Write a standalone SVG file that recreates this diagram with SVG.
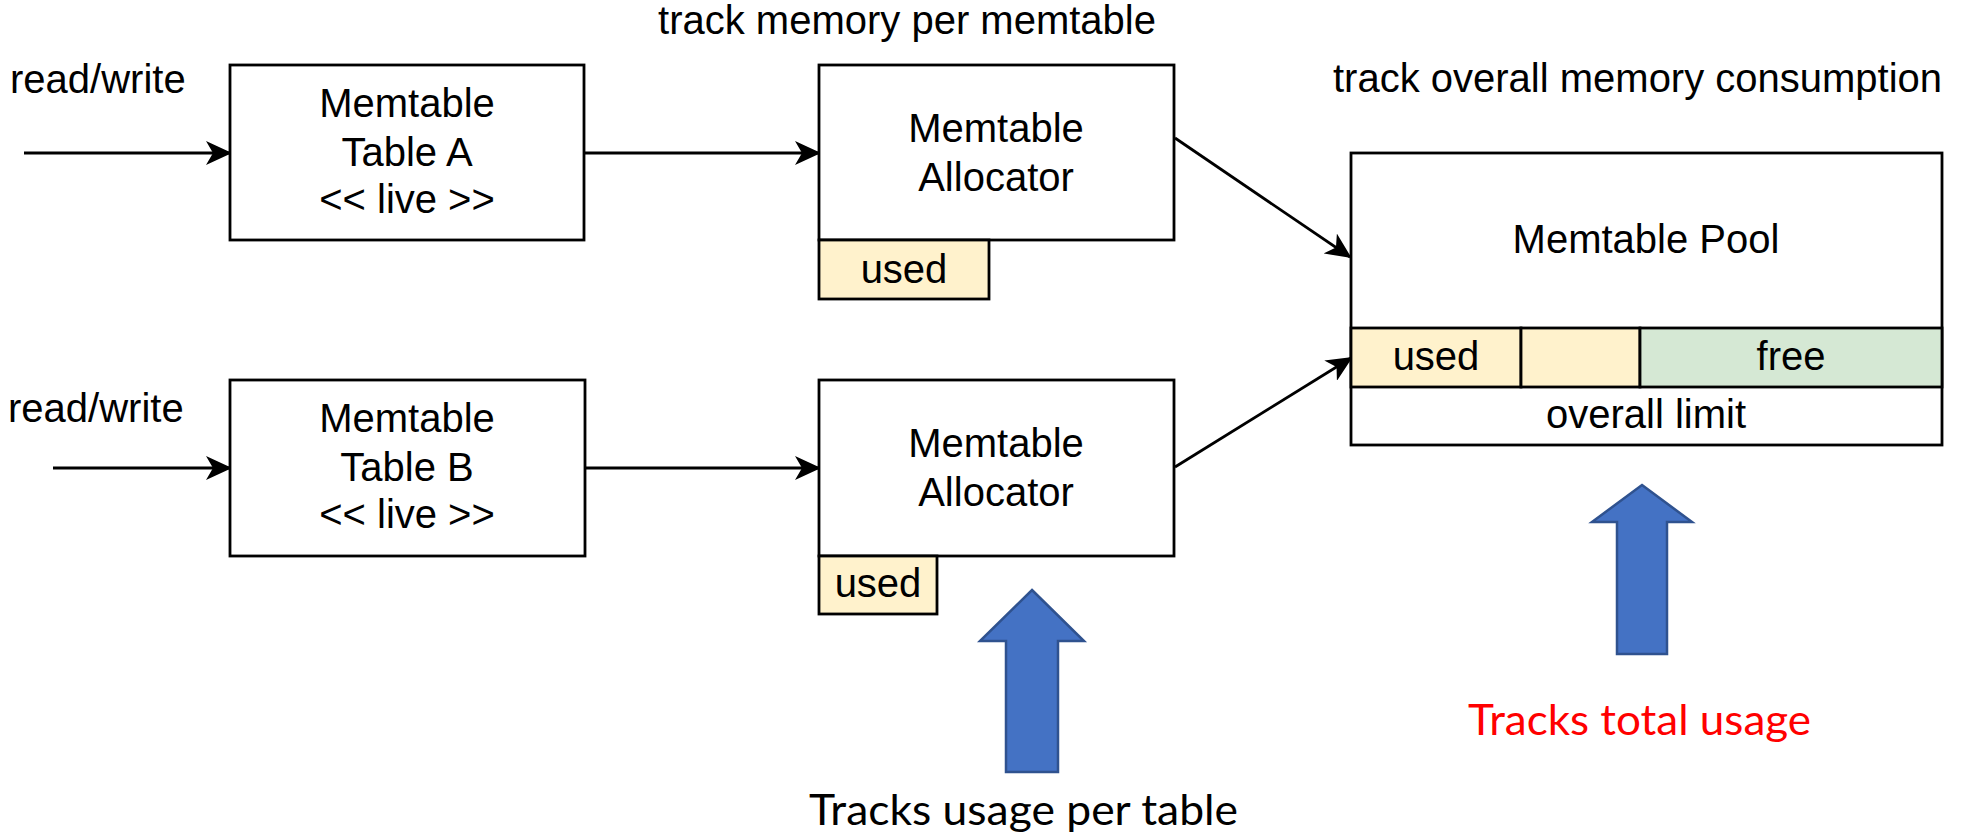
<svg xmlns="http://www.w3.org/2000/svg" width="1964" height="835" viewBox="0 0 1964 835">
  <style>
    .box { fill: #ffffff; stroke: #000000; stroke-width: 2.8; }
    .used { fill: #fff2cc; stroke: #000000; stroke-width: 2.8; }
    .free { fill: #d5e8d4; stroke: #000000; stroke-width: 2.8; }
    .lbl { font-family: "Liberation Sans", Arial, Helvetica, sans-serif; font-size: 40px; fill: #000000; }
    .mid { text-anchor: middle; }
    .edge { fill: none; stroke: #000000; stroke-width: 2.8; marker-end: url(#head); }
    .big { fill: #4472c4; stroke: #2f528f; stroke-width: 2.5; }
    .note { font-family: Lato, "Open Sans", sans-serif; font-size: 42px; }
  </style>
  <defs>
    <marker id="head" viewBox="0 0 26 24" refX="24" refY="12" markerWidth="26" markerHeight="24" markerUnits="userSpaceOnUse" orient="auto">
      <path d="M0,0 L26,12 L0,24 L7,12 Z" fill="#000000"/>
    </marker>
  </defs>
  <rect width="1964" height="835" fill="#ffffff"/>

  <!-- section headings -->
  <text class="lbl mid" x="907" y="34">track memory per memtable</text>
  <text class="lbl" x="1333" y="92">track overall memory consumption</text>
  <text class="lbl" x="10" y="93">read/write</text>
  <text class="lbl" x="8" y="422">read/write</text>

  <!-- connectors -->
  <g id="connectors">
    <line class="edge" x1="24" y1="153" x2="230" y2="153"/>
    <line class="edge" x1="584" y1="153" x2="819" y2="153"/>
    <line class="edge" x1="53" y1="468" x2="230" y2="468"/>
    <line class="edge" x1="585" y1="468" x2="819" y2="468"/>
    <line class="edge" x1="1175" y1="138" x2="1350" y2="257"/>
    <line class="edge" x1="1175" y1="467" x2="1351" y2="358"/>
  </g>

  <g id="table-a">
    <rect class="box" x="230" y="65" width="354" height="175"/>
    <text class="lbl mid" x="407" y="117">Memtable</text>
    <text class="lbl mid" x="407" y="166">Table A</text>
    <text class="lbl mid" x="407" y="213">&lt;&lt; live &gt;&gt;</text>
  </g>

  <g id="table-b">
    <rect class="box" x="230" y="380" width="355" height="176"/>
    <text class="lbl mid" x="407" y="432">Memtable</text>
    <text class="lbl mid" x="407" y="481">Table B</text>
    <text class="lbl mid" x="407" y="528">&lt;&lt; live &gt;&gt;</text>
  </g>

  <g id="allocator-a">
    <rect class="box" x="819" y="65" width="355" height="175"/>
    <text class="lbl mid" x="996" y="142">Memtable</text>
    <text class="lbl mid" x="996" y="191">Allocator</text>
    <rect class="used" x="819" y="240" width="170" height="59"/>
    <text class="lbl mid" x="904" y="283">used</text>
  </g>

  <g id="allocator-b">
    <rect class="box" x="819" y="380" width="355" height="176"/>
    <text class="lbl mid" x="996" y="457">Memtable</text>
    <text class="lbl mid" x="996" y="506">Allocator</text>
    <rect class="used" x="819" y="556" width="118" height="58"/>
    <text class="lbl mid" x="878" y="597">used</text>
  </g>

  <g id="memtable-pool">
    <rect class="box" x="1351" y="153" width="591" height="292"/>
    <text class="lbl mid" x="1646" y="253">Memtable Pool</text>
    <rect class="used" x="1351" y="328" width="170" height="59"/>
    <rect class="used" x="1521" y="328" width="119" height="59"/>
    <rect class="free" x="1640" y="328" width="302" height="59"/>
    <text class="lbl mid" x="1436" y="370">used</text>
    <text class="lbl mid" x="1791" y="370">free</text>
    <text class="lbl mid" x="1646" y="428">overall limit</text>
  </g>

  <g id="per-table-callout">
    <polygon class="big" points="1032,590 1084,641 1058,641 1058,772 1006,772 1006,641 980,641"/>
    <text class="note" x="809" y="825" textLength="429" lengthAdjust="spacingAndGlyphs" fill="#000000">Tracks usage per table</text>
  </g>

  <g id="total-callout">
    <polygon class="big" points="1642,485 1692,522 1667,522 1667,654 1617,654 1617,522 1592,522"/>
    <text class="note" x="1468" y="735" textLength="343" lengthAdjust="spacingAndGlyphs" fill="#ff0000">Tracks total usage</text>
  </g>
</svg>
